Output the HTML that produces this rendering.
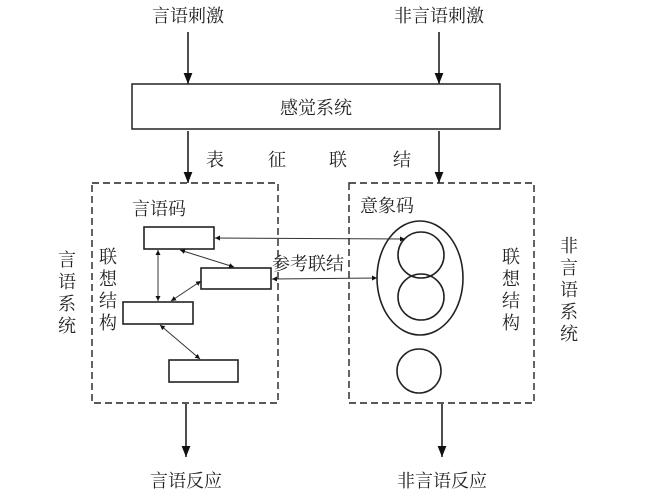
<!DOCTYPE html>
<html><head><meta charset="utf-8"><style>
html,body{margin:0;padding:0;background:#fff;}
svg{display:block;}
text{font-family:"Liberation Serif","Noto Serif CJK SC",serif;fill:#222;font-size:18px;}
</style></head><body>
<svg width="651" height="501" viewBox="0 0 651 501" xmlns="http://www.w3.org/2000/svg">
<defs>
<marker id="a" viewBox="0 0 10 10" refX="10" refY="5" markerWidth="7" markerHeight="7" orient="auto-start-reverse"><path d="M0,1 L10,5 L0,9 z" fill="#111"/></marker>
<marker id="s" viewBox="0 0 10 10" refX="10" refY="5" markerWidth="5" markerHeight="5" orient="auto-start-reverse"><path d="M0,0 L10,5 L0,10 z" fill="#111"/></marker>
</defs>
<rect width="651" height="501" fill="#fff"/>
<g stroke="#222" fill="none" stroke-width="1.6">
<line x1="188" y1="32" x2="188" y2="84" marker-end="url(#a)"/>
<line x1="439" y1="32" x2="439" y2="84" marker-end="url(#a)"/>
<rect x="132" y="84" width="368" height="45" stroke-width="1.5"/>
<line x1="188" y1="131" x2="188" y2="183" marker-end="url(#a)"/>
<line x1="439" y1="131" x2="439" y2="183" marker-end="url(#a)"/>
<rect x="92" y="183" width="186" height="220" stroke-dasharray="7,4" stroke-width="1.4"/>
<rect x="349" y="183" width="185" height="220" stroke-dasharray="7,4" stroke-width="1.4"/>
<line x1="186" y1="404" x2="186" y2="457" marker-end="url(#a)"/>
<line x1="442" y1="404" x2="442" y2="457" marker-end="url(#a)"/>
<rect x="144" y="227" width="70" height="22"/>
<rect x="201" y="268" width="70" height="21"/>
<rect x="123" y="302" width="70" height="22"/>
<rect x="169" y="360" width="69" height="22"/>
<ellipse cx="420" cy="278" rx="43" ry="57"/>
<circle cx="421" cy="255" r="23"/>
<circle cx="421" cy="297" r="23"/>
<circle cx="419" cy="371" r="22"/>
</g>
<g stroke="#333" fill="none" stroke-width="1">
<line x1="215" y1="238" x2="405" y2="239" marker-start="url(#s)" marker-end="url(#s)"/>
<line x1="272" y1="279" x2="377" y2="278" marker-start="url(#s)" marker-end="url(#s)"/>
<line x1="158" y1="250" x2="158" y2="301" marker-start="url(#s)" marker-end="url(#s)"/>
<line x1="180" y1="250" x2="234" y2="267" marker-start="url(#s)" marker-end="url(#s)"/>
<line x1="201" y1="281" x2="171" y2="301" marker-start="url(#s)" marker-end="url(#s)"/>
<line x1="160" y1="325" x2="200" y2="359" marker-start="url(#s)" marker-end="url(#s)"/>
</g>
<text x="188" y="22" text-anchor="middle">言语刺激</text>
<text x="439" y="22" text-anchor="middle">非言语刺激</text>
<text x="316" y="114" text-anchor="middle">感觉系统</text>
<text x="206" y="166">表</text>
<text x="268" y="166">征</text>
<text x="329" y="166">联</text>
<text x="393" y="166">结</text>
<text x="132" y="215">言语码</text>
<text x="360" y="212">意象码</text>
<text x="272" y="270">参考联结</text>
<g text-anchor="middle">
<text x="108" y="263">联</text><text x="108" y="285">想</text><text x="108" y="307">结</text><text x="108" y="329">构</text>
<text x="511" y="263">联</text><text x="511" y="285">想</text><text x="511" y="307">结</text><text x="511" y="329">构</text>
<text x="67" y="266">言</text><text x="67" y="288">语</text><text x="67" y="310">系</text><text x="67" y="332">统</text>
<text x="569" y="252">非</text><text x="569" y="274">言</text><text x="569" y="296">语</text><text x="569" y="318">系</text><text x="569" y="340">统</text>
<text x="186" y="487">言语反应</text>
<text x="442" y="487">非言语反应</text>
</g>
</svg>
</body></html>
